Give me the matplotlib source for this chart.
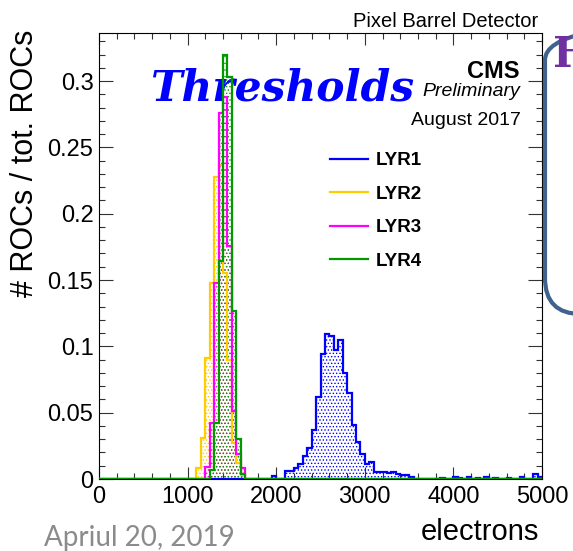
import numpy as np
import matplotlib
matplotlib.use('Agg')
import matplotlib.pyplot as plt
from matplotlib.patches import FancyBboxPatch
from matplotlib.lines import Line2D
from matplotlib.ticker import MultipleLocator, FuncFormatter

plt.rcParams['font.family'] = ['Liberation Sans', 'DejaVu Sans']
plt.rcParams['hatch.linewidth'] = 0.6

# threshold distributions, fraction of ROCs per 50-electron bin
BIN_W = 50
X_MAX = 5000

layers = ['LYR1', 'LYR2', 'LYR3', 'LYR4']
colors = ['#0000ff', '#ffcc00', '#ff00ff', '#009900']

lyr1_start = 1950
lyr1_vals = [0.002, 0.0, 0.0, 0.006, 0.006, 0.008, 0.011, 0.017, 0.023, 0.037,
             0.062, 0.094, 0.109, 0.108, 0.097, 0.105, 0.080, 0.065, 0.041, 0.028,
             0.019, 0.011, 0.013, 0.005, 0.005, 0.0055, 0.0045, 0.005, 0.004, 0.003,
             0.003, 0.0015]
lyr1_tail = {3850: 0.001, 4000: 0.0015, 4050: 0.001, 4150: 0.0015, 4250: 0.001,
             4350: 0.0015, 4450: 0.001, 4600: 0.001, 4750: 0.0015, 4900: 0.004,
             4950: 0.0015}

lyr2_start = 1100
lyr2_vals = [0.008, 0.031, 0.091, 0.148, 0.228, 0.237, 0.155, 0.090, 0.027, 0.012, 0.003]

lyr3_start = 1200
lyr3_vals = [0.009, 0.042, 0.148, 0.276, 0.288, 0.176, 0.051, 0.019, 0.008]

lyr4_start = 1250
lyr4_vals = [0.007, 0.042, 0.164, 0.320, 0.303, 0.127, 0.030, 0.004]

y_ticks = [0, 0.05, 0.1, 0.15, 0.2, 0.25, 0.3]


def full_hist(start, vals, extra=None):
    edges = np.arange(0, X_MAX + BIN_W, BIN_W)
    h = np.zeros(len(edges) - 1)
    i0 = start // BIN_W
    h[i0:i0 + len(vals)] = vals
    if extra:
        for e, v in extra.items():
            h[e // BIN_W] = v
    return edges, h


hists = [full_hist(lyr1_start, lyr1_vals, lyr1_tail),
         full_hist(lyr2_start, lyr2_vals),
         full_hist(lyr3_start, lyr3_vals),
         full_hist(lyr4_start, lyr4_vals)]

W, H = 573, 551
fig = plt.figure(figsize=(W / 100, H / 100), dpi=100)
ax = fig.add_axes([99 / W, 1 - 479 / H, (542 - 99) / W, (479 - 33.3) / H])

for (edges, h), c in zip(hists, colors):
    ax.stairs(h, edges, baseline=0, fill=True, facecolor='none', edgecolor=c,
              hatch='.....', linewidth=0, zorder=3)
    ax.stairs(h, edges, baseline=0, color=c, linewidth=1.6, zorder=4)

ax.set_xlim(0, X_MAX)
ax.set_ylim(0, 0.336)
ax.xaxis.set_major_locator(MultipleLocator(1000))
ax.xaxis.set_minor_locator(MultipleLocator(200))
ax.set_yticks(y_ticks)
ax.yaxis.set_minor_locator(MultipleLocator(0.01))
ax.yaxis.set_major_formatter(FuncFormatter(lambda v, p: '%g' % round(v, 2)))
ax.tick_params(which='both', direction='in', top=True, right=True,
               color='#333333', width=0.8, labelsize=17)
ax.tick_params(axis='x', which='major', length=8.5, pad=5)
ax.tick_params(axis='y', which='major', length=10, pad=4)
ax.tick_params(which='minor', length=4.3)
for s in ax.spines.values():
    s.set_linewidth(0.8)

handles = [Line2D([], [], color=c, lw=1.6) for c in colors]
ax.legend(handles, layers, loc='upper left', bbox_to_anchor=(330 / W, 1 - 152 / H),
          bbox_transform=fig.transFigure, frameon=False, borderpad=0,
          borderaxespad=0, handlelength=2.0, handletextpad=0.45,
          labelspacing=0.88, prop={'weight': 'bold', 'size': 13.5})

fig.text(25 / W, 1 - 30 / H, '# ROCs / tot. ROCs', rotation=90,
         ha='center', va='top', fontsize=22)
fig.text(539 / W, 1 - 540 / H, 'electrons', ha='right', va='baseline', fontsize=21)

fig.text(538 / W, 1 - 27 / H, 'Pixel Barrel Detector', ha='right', va='baseline',
         fontsize=14.5)
fig.text(520 / W, 1 - 78 / H, 'CMS', ha='right', va='baseline', fontsize=17,
         weight='bold')
fig.text(520 / W, 1 - 96 / H, 'Preliminary', ha='right', va='baseline', fontsize=14,
         style='italic')
fig.text(521 / W, 1 - 125 / H, 'August 2017', ha='right', va='baseline', fontsize=14)

ax.text(150 / W, 1 - 100 / H, 'Thresholds', transform=fig.transFigure,
        ha='left', va='baseline', fontsize=30.5, family='DejaVu Serif',
        weight='bold', style='italic', color='#0000ff', zorder=2)

# slide decorations around the plot
box = FancyBboxPatch((5.45, (H - 314) / 100), 2.0, (314 - 24) / 100,
                     boxstyle='round,pad=0,rounding_size=0.36',
                     transform=fig.dpi_scale_trans, fill=False,
                     edgecolor='#40628f', linewidth=3)
fig.add_artist(box)
fig.text(553 / W, 1 - 67 / H, 'H', ha='left', va='baseline', fontsize=30,
         family='DejaVu Serif', weight='bold', color='#7030a0')
fig.text(44 / W, 1 - 546 / H, 'Apriul 20, 2019', ha='left', va='baseline',
         fontsize=20, family='Lato', color='#8b8b8b')

fig.savefig('out.png', dpi=100)
